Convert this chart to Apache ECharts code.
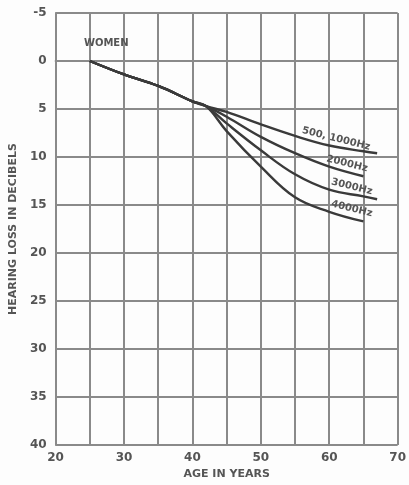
<!DOCTYPE html>
<html>
<head>
<meta charset="utf-8">
<script src="https://cdn.jsdelivr.net/npm/echarts@6/dist/echarts.min.js"></script>
<style>
  html, body { margin: 0; padding: 0; background: #fdfdfd; }
  #chart { width: 409px; height: 485px; }
</style>
</head>
<body>
<div id="chart"></div>
<script>
// ages and hearing loss
var ages = [25, 30, 35, 40, 42, 45, 50, 55, 60, 65, 67];
var loss500 = [0, 1.4, 2.6, 4.2, 4.7, 5.3, 6.6, 7.8, 8.8, 9.4, 9.6];
var loss2000 = [0, 1.4, 2.6, 4.2, 4.7, 5.8, 7.9, 9.6, 11.0, 12.0, null];
var loss3000 = [0, 1.4, 2.6, 4.2, 4.7, 6.5, 9.3, 11.8, 13.4, 14.1, 14.4];
var loss4000 = [0, 1.4, 2.6, 4.2, 4.7, 7.3, 11.0, 14.2, 15.7, 16.7, null];
var curveNames = ['500, 1000Hz', '2000Hz', '3000Hz', '4000Hz'];

function pairs(ys) {
    var out = [];
    for (var i = 0; i < ages.length; i++) if (ys[i] != null) out.push([ages[i], ys[i]]);
    return out;
}

var labelStyle = { color: '#555', fontFamily: 'DejaVu Sans', fontWeight: 'bold', fontSize: 10 };
// where each curve's name sits (data coords)
var tagAt = [[61.0, 8.1], [62.6, 10.7], [63.3, 13.1], [63.3, 15.4]];
var curves = [loss500, loss2000, loss3000, loss4000];

var myChart = echarts.init(document.getElementById('chart'));
var seriesList = curves.map(function (ys, k) {
    return {
        name: curveNames[k], type: 'line', smooth: 0.4, showSymbol: false,
        lineStyle: { color: '#3a3a3a', width: 2.4 },
        data: pairs(ys),
        markPoint: {
            symbol: 'circle', symbolSize: 0, silent: true,
            label: Object.assign({ show: true, rotate: -14, formatter: curveNames[k] }, labelStyle),
            data: [{ coord: tagAt[k] }]
        }
    };
});
// WOMEN caption
seriesList[0].markPoint.data.push({ coord: [27.4, -1.8], label: Object.assign({ show: true, rotate: 0, formatter: 'WOMEN' }, labelStyle) });

var gl = { show: true, lineStyle: { color: '#8a8a8a', width: 2 } };
var opt = {
    animation: false,
    grid: { left: 54, right: 11, top: 13, bottom: 36 },
    xAxis: {
        type: 'value', min: 20, max: 70, interval: 5,
        name: 'AGE IN YEARS', nameLocation: 'middle', nameGap: 21,
        nameTextStyle: { color: '#555', fontFamily: 'DejaVu Sans', fontWeight: 'bold', fontSize: 11 },
        axisLine: { show: true, lineStyle: { color: '#8a8a8a', width: 2 } },
        axisTick: { show: false },
        axisLabel: { margin: 7, color: '#555', fontFamily: 'DejaVu Sans', fontWeight: 'bold', fontSize: 12,
            formatter: function (v) { return v % 10 === 0 ? v : ''; } },
        splitLine: gl
    },
    yAxis: {
        type: 'value', inverse: true, min: -5, max: 40, interval: 5,
        name: 'HEARING LOSS IN DECIBELS', nameLocation: 'middle', nameGap: 34,
        nameTextStyle: { color: '#555', fontFamily: 'DejaVu Sans', fontWeight: 'bold', fontSize: 11 },
        axisLine: { show: true, lineStyle: { color: '#8a8a8a', width: 2 } },
        axisTick: { show: false },
        axisLabel: { margin: 9, color: '#555', fontFamily: 'DejaVu Sans', fontWeight: 'bold', fontSize: 12 },
        splitLine: gl
    },
    series: seriesList
};
myChart.setOption(opt);
// make sure the whole display list is built before the snapshot
myChart.getZr().storage.getDisplayList(true);
</script>
</body>
</html>
